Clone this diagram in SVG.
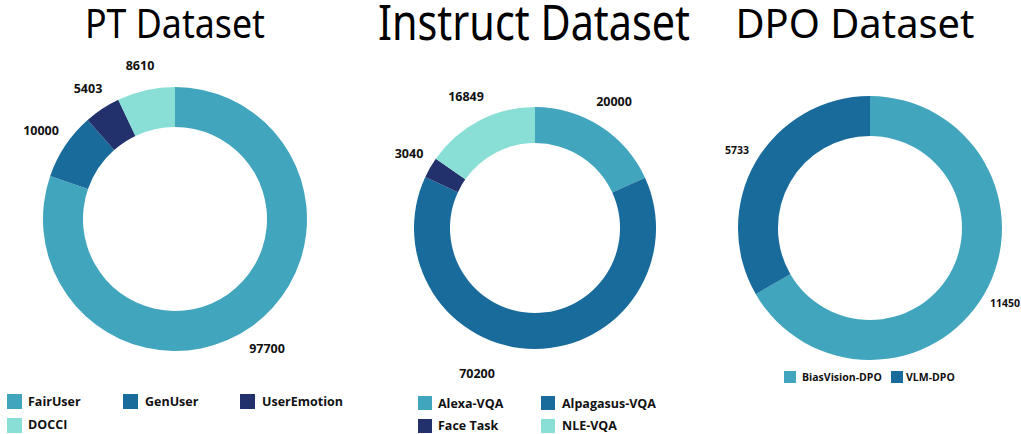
<svg xmlns="http://www.w3.org/2000/svg" width="1021" height="434" viewBox="0 0 1021 434">
<style>
.title{font-family:"Noto Sans","Open Sans",sans-serif;font-weight:400;fill:#000;text-anchor:middle}
.lbl{font-family:"Open Sans","Noto Sans",sans-serif;font-weight:700;font-size:12.5px;fill:#111;text-anchor:middle}
.lbls{font-family:"Open Sans","Noto Sans",sans-serif;font-weight:700;font-size:10.5px;fill:#111;text-anchor:middle}
.leg{font-family:"Open Sans","Noto Sans",sans-serif;font-weight:700;font-size:12.5px;fill:#111}
.legs{font-family:"Open Sans","Noto Sans",sans-serif;font-weight:700;font-size:10.5px;fill:#111}
.c1{fill:#41A5BD}.c2{fill:#196B9C}.c3{fill:#22306C}.c4{fill:#89DFD6}
</style>
<rect width="1021" height="434" fill="#fff"/>
<g id="pt-chart">
<text class="title" x="175" y="38" font-size="40" textLength="180" lengthAdjust="spacingAndGlyphs">PT Dataset</text>
<path class="c1" d="M175,87 A132,132 0 1 1 50.17,176.07 L88.00,189.08 A92,92 0 1 0 175,127 Z"/>
<path class="c2" d="M50.17,176.07 A132,132 0 0 1 87.63,120.05 L114.11,150.04 A92,92 0 0 0 88.00,189.08 Z"/>
<path class="c3" d="M87.63,120.05 A132,132 0 0 1 118.25,99.82 L135.45,135.93 A92,92 0 0 0 114.11,150.04 Z"/>
<path class="c4" d="M118.25,99.82 A132,132 0 0 1 175,87 L175,127 A92,92 0 0 0 135.45,135.93 Z"/>
<text class="lbl" x="267" y="353">97700</text>
<text class="lbl" x="41" y="135">10000</text>
<text class="lbl" x="88" y="93">5403</text>
<text class="lbl" x="140" y="70">8610</text>
<rect class="c1" x="7" y="394" width="15" height="15"/><text class="leg" x="28" y="406">FairUser</text>
<rect class="c2" x="123" y="394" width="15" height="15"/><text class="leg" x="145" y="406">GenUser</text>
<rect class="c3" x="240" y="394" width="15" height="15"/><text class="leg" x="262" y="406">UserEmotion</text>
<rect class="c4" x="7" y="418" width="15" height="15"/><text class="leg" x="28" y="429">DOCCI</text>
</g>
<g id="instruct-chart">
<text class="title" x="534" y="40" font-size="50" textLength="312" lengthAdjust="spacingAndGlyphs">Instruct Dataset</text>
<path class="c1" d="M535,107 A121,121 0 0 1 645.03,177.63 L612.29,192.61 A85,85 0 0 0 535,143 Z"/>
<path class="c2" d="M645.03,177.63 A121,121 0 1 1 425.30,176.94 L457.94,192.13 A85,85 0 1 0 612.29,192.61 Z"/>
<path class="c3" d="M425.30,176.94 A121,121 0 0 1 435.76,158.78 L465.28,179.37 A85,85 0 0 0 457.94,192.13 Z"/>
<path class="c4" d="M435.76,158.78 A121,121 0 0 1 535,107 L535,143 A85,85 0 0 0 465.28,179.37 Z"/>
<text class="lbl" x="614" y="106">20000</text>
<text class="lbl" x="477" y="378">70200</text>
<text class="lbl" x="409" y="158">3040</text>
<text class="lbl" x="466" y="101">16849</text>
<rect class="c1" x="418" y="396" width="14" height="14"/><text class="leg" x="438" y="408">Alexa-VQA</text>
<rect class="c2" x="541" y="396" width="14" height="14"/><text class="leg" x="562" y="408">Alpagasus-VQA</text>
<rect class="c3" x="418" y="419" width="14" height="14"/><text class="leg" x="438" y="430">Face Task</text>
<rect class="c4" x="541" y="419" width="14" height="14"/><text class="leg" x="562" y="430">NLE-VQA</text>
</g>
<g id="dpo-chart">
<text class="title" x="855" y="38" font-size="40" textLength="239" lengthAdjust="spacingAndGlyphs">DPO Dataset</text>
<path class="c1" d="M870,96 A132,132 0 1 1 755.78,294.21 L790.39,274.15 A92,92 0 1 0 870,136 Z"/>
<path class="c2" d="M755.78,294.21 A132,132 0 0 1 870,96 L870,136 A92,92 0 0 0 790.39,274.15 Z"/>
<text class="lbls" x="737" y="154">5733</text>
<text class="lbls" x="1005" y="307">11450</text>
<rect class="c1" x="784" y="371" width="12" height="12"/><text class="legs" x="802" y="381">BiasVision-DPO</text>
<rect class="c2" x="891" y="371" width="12" height="12"/><text class="legs" x="906" y="381">VLM-DPO</text>
</g>
<g id="connectors"></g>
</svg>
